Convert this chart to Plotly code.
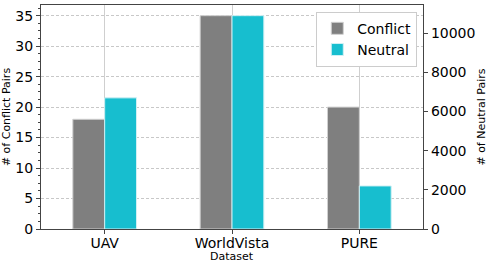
import plotly.graph_objects as go

categories = ["UAV", "WorldVista", "PURE"]
conflict = [18, 35, 20]
neutral = [6700, 10900, 2200]

FONT = "DejaVu Sans"
AX = "#444444"

fig = go.Figure()
fig.add_trace(go.Bar(
    x=categories, y=conflict, name="Conflict", yaxis="y",
    marker=dict(color="#7f7f7f", line=dict(color="#d0d0d0", width=1)),
    width=0.25, offset=-0.25,
))
fig.add_trace(go.Bar(
    x=categories, y=neutral, name="Neutral", yaxis="y2",
    marker=dict(color="#17becf", line=dict(color="#d0f0f4", width=1)),
    width=0.25, offset=0,
))

fig.update_layout(
    width=490, height=266,
    margin=dict(l=41, r=67, t=5, b=37, autoexpand=False),
    paper_bgcolor="white", plot_bgcolor="white",
    barmode="overlay",
    font=dict(family=FONT, size=14, color="black"),
    showlegend=True,
    legend=dict(
        x=0.985, y=0.97, xanchor="right", yanchor="top",
        bgcolor="white", bordercolor="#cccccc", borderwidth=1,
        font=dict(family=FONT, size=14), itemwidth=30,
        tracegroupgap=0,
    ),
    xaxis=dict(
        range=[-0.5, 2.5], showgrid=True, gridcolor="#cfcfcf", gridwidth=1,
        showline=True, linecolor=AX, linewidth=1.2, mirror=True,
        ticks="outside", ticklen=4, tickcolor=AX,
        tickfont=dict(size=14), ticklabelstandoff=-3,
        automargin=False,
        zeroline=False,
    ),
    yaxis=dict(
        range=[0, 36.75], dtick=5, tick0=0,
        showgrid=True, gridcolor="#c8c8c8", griddash="3px,2px", gridwidth=1,
        showline=True, linecolor=AX, linewidth=1.2,
        ticks="outside", ticklen=4, tickcolor=AX,
        minor=dict(dtick=1.25, ticks="outside", ticklen=2, tickcolor=AX, showgrid=False),
        tickfont=dict(size=14),
        title=dict(text="# of Conflict Pairs", font=dict(size=11), standoff=4),
        automargin=False,
        zeroline=False,
    ),
    yaxis2=dict(
        overlaying="y", side="right",
        range=[0, 10900 * 1.05], dtick=2000, tick0=0, tickformat="d",
        showgrid=False,
        showline=True, linecolor=AX, linewidth=1.2,
        ticks="outside", ticklen=4, tickcolor=AX,
        tickfont=dict(size=14),
        title=dict(text="# of Neutral Pairs", font=dict(size=11), standoff=2),
        automargin=False,
        zeroline=False,
    ),
    annotations=[dict(
        text="Dataset", xref="paper", yref="paper", x=0.5, y=-0.087,
        xanchor="center", yanchor="top", showarrow=False,
        font=dict(family=FONT, size=11),
    )],
)

fig.write_html("out.html", config={"displayModeBar": False},
               post_script="document.body.style.margin='0';")
